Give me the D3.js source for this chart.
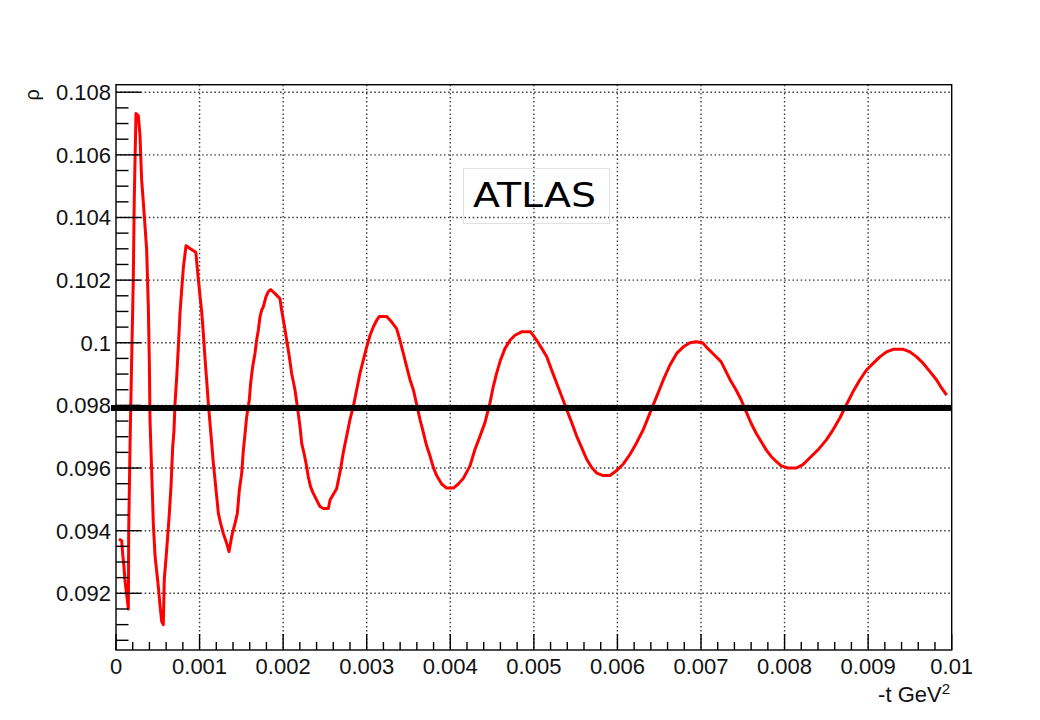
<!DOCTYPE html>
<html><head><meta charset="utf-8">
<script src="https://cdn.jsdelivr.net/npm/d3@7"></script>
<style>body{margin:0;background:#fff}</style>
</head><body><svg id="c" width="1040" height="720"></svg>
<script>
// ---- data ----
const tValues = [
0.000036,0.000068,0.000080,0.000095,0.000108,0.000128,0.000148,0.000152,0.000168,0.000187,
0.000207,0.000219,0.000239,0.000267,0.000287,0.000307,0.000327,0.000347,0.000367,0.000387,
0.000399,0.000407,0.000427,0.000447,0.000467,0.000507,0.000527,0.000547,0.000566,0.000578,
0.000598,0.000618,0.000638,0.000658,0.000678,0.000694,0.000706,0.000726,0.000746,0.000766,
0.000786,0.000806,0.000838,0.000890,0.000955,0.000985,0.001005,0.001025,0.001045,0.001065,
0.001085,0.001105,0.001125,0.001145,0.001165,0.001185,0.001205,0.001225,0.001252,0.001284,
0.001324,0.001352,0.001384,0.001424,0.001452,0.001476,0.001504,0.001524,0.001544,0.001564,
0.001595,0.001611,0.001635,0.001663,0.001683,0.001703,0.001723,0.001743,0.001763,0.001795,
0.001823,0.001851,0.001903,0.001962,0.001982,0.002010,0.002042,0.002074,0.002102,0.002142,
0.002170,0.002202,0.002222,0.002250,0.002274,0.002301,0.002329,0.002361,0.002401,0.002441,
0.002481,0.002541,0.002561,0.002640,0.002680,0.002720,0.002760,0.002800,0.002840,0.002880,
0.002920,0.002960,0.003000,0.003040,0.003080,0.003120,0.003151,0.003239,0.003299,0.003358,
0.003398,0.003438,0.003478,0.003518,0.003558,0.003598,0.003638,0.003678,0.003717,0.003757,
0.003797,0.003837,0.003897,0.003957,0.004037,0.004096,0.004156,0.004236,0.004296,0.004356,
0.004415,0.004475,0.004515,0.004555,0.004595,0.004655,0.004715,0.004774,0.004854,0.004962,
0.005034,0.005094,0.005153,0.005213,0.005273,0.005333,0.005393,0.005453,0.005512,0.005572,
0.005632,0.005692,0.005752,0.005831,0.005911,0.005991,0.006071,0.006151,0.006230,0.006310,
0.006390,0.006470,0.006550,0.006629,0.006709,0.006789,0.006869,0.006940,0.007020,0.007080,
0.007160,0.007240,0.007300,0.007360,0.007420,0.007480,0.007540,0.007600,0.007660,0.007720,
0.007780,0.007840,0.007900,0.007960,0.008040,0.008140,0.008220,0.008300,0.008400,0.008500,
0.008580,0.008660,0.008740,0.008820,0.008900,0.008980,0.009060,0.009140,0.009220,0.009300,
0.009420,0.009500,0.009580,0.009660,0.009740,0.009820,0.009880,0.009940];
const rhoValues = [
0.09373,0.09368,0.09325,0.09285,0.09240,0.09195,0.09150,0.09400,0.09673,0.09941,
0.10204,0.10466,0.10732,0.10725,0.10662,0.10520,0.10449,0.10373,0.10296,0.10113,
0.09936,0.09753,0.09590,0.09420,0.09320,0.09220,0.09160,0.09110,0.09100,0.09246,
0.09310,0.09380,0.09454,0.09540,0.09665,0.09720,0.09805,0.09888,0.09987,0.10095,
0.10170,0.10240,0.10310,0.10300,0.10289,0.10204,0.10150,0.10100,0.10030,0.09950,
0.09880,0.09806,0.09743,0.09679,0.09615,0.09562,0.09509,0.09455,0.09423,0.09391,
0.09360,0.09333,0.09381,0.09423,0.09455,0.09530,0.09583,0.09657,0.09710,0.09764,
0.09817,0.09870,0.09923,0.09966,0.10009,0.10040,0.10083,0.10104,0.10115,0.10147,
0.10163,0.10170,0.10157,0.10141,0.10104,0.10062,0.10009,0.09955,0.09902,0.09849,
0.09796,0.09732,0.09679,0.09647,0.09615,0.09572,0.09540,0.09519,0.09498,0.09477,
0.09471,0.09471,0.09498,0.09534,0.09586,0.09650,0.09702,0.09755,0.09797,0.09850,
0.09903,0.09945,0.09987,0.10024,0.10051,0.10072,0.10084,0.10084,0.10066,0.10045,
0.10008,0.09966,0.09924,0.09882,0.09850,0.09803,0.09755,0.09713,0.09671,0.09639,
0.09602,0.09576,0.09549,0.09536,0.09536,0.09549,0.09567,0.09607,0.09660,0.09702,
0.09745,0.09808,0.09861,0.09903,0.09940,0.09982,0.10008,0.10024,0.10035,0.10035,
0.10008,0.09982,0.09956,0.09913,0.09871,0.09829,0.09787,0.09745,0.09702,0.09665,
0.09628,0.09602,0.09584,0.09576,0.09576,0.09592,0.09613,0.09644,0.09681,0.09723,
0.09776,0.09829,0.09882,0.09929,0.09966,0.09987,0.10000,0.10003,0.10000,0.09982,
0.09961,0.09940,0.09908,0.09876,0.09849,0.09818,0.09780,0.09743,0.09711,0.09685,
0.09658,0.09637,0.09621,0.09607,0.09600,0.09600,0.09611,0.09632,0.09658,0.09690,
0.09722,0.09759,0.09802,0.09844,0.09881,0.09913,0.09934,0.09955,0.09971,0.09979,
0.09979,0.09971,0.09955,0.09934,0.09908,0.09881,0.09855,0.09833];
const refLineT = [-0.00006, 0.01];
const refLineRho = [0.09792, 0.09792];
const xTicks = [0,0.001,0.002,0.003,0.004,0.005,0.006,0.007,0.008,0.009,0.01];
const xTickLabels = ["0","0.001","0.002","0.003","0.004","0.005","0.006","0.007","0.008","0.009","0.01"];
const yTicks = [0.092,0.094,0.096,0.098,0.1,0.102,0.104,0.106,0.108];
const yTickLabels = ["0.092","0.094","0.096","0.098","0.1","0.102","0.104","0.106","0.108"];
const xTitle = "-t GeV";
const xTitleSup = "2";
const yTitle = "ρ";
const annotation = "ATLAS";

// ---- drawing ----
const svg = d3.select("#c");
const L = 116, R = 951.7, T = 84.7, B = 650;
const x = d3.scaleLinear().domain([0, 0.01]).range([L, R]);
const y = d3.scaleLinear().domain([0.09019, 0.10824]).range([B, T]);
const font = "'Liberation Sans', Arial, Helvetica, sans-serif";

// grid
const grid = svg.append("g").attr("stroke", "#3a3a3a").attr("stroke-width", 1.4)
  .attr("stroke-dasharray", "1.5,2.6").attr("fill", "none");
grid.selectAll("line.gx").data(xTicks.slice(1, -1)).join("line")
  .attr("x1", d => x(d)).attr("x2", d => x(d))
  .attr("y1", T).attr("y2", B);
grid.selectAll("line.gy").data(yTicks).join("line")
  .attr("y1", d => y(d)).attr("y2", d => y(d))
  .attr("x1", L).attr("x2", R);

// curve
const pts = tValues.map((t, i) => [t, rhoValues[i]]);
svg.append("path").datum(pts)
  .attr("d", d3.line().x(d => x(d[0])).y(d => y(d[1])))
  .attr("fill", "none").attr("stroke", "#ff0000").attr("stroke-width", 3)
  .attr("stroke-linejoin", "round");

// reference line
const ref = refLineT.map((t, i) => [t, refLineRho[i]]);
svg.append("path").datum(ref)
  .attr("d", d3.line().x(d => x(d[0])).y(d => y(d[1])))
  .attr("stroke", "#000").attr("stroke-width", 6).attr("fill", "none");

// frame
svg.append("rect").attr("x", L).attr("y", T).attr("width", R - L).attr("height", B - T)
  .attr("fill", "none").attr("stroke", "#000").attr("stroke-width", 1.4);

// x ticks
const xMinor = d3.range(0, 0.01 + 1e-9, 0.0002);
svg.append("g").selectAll("line").data(xMinor).join("line")
  .attr("x1", d => x(d)).attr("x2", d => x(d))
  .attr("y1", B).attr("y2", (d, i) => i % 5 === 0 ? B - 16 : B - 8)
  .attr("stroke", "#000").attr("stroke-width", 1.4);
svg.append("g").selectAll("text").data(xTicks).join("text")
  .attr("x", d => x(d)).attr("y", 674).attr("text-anchor", "middle")
  .attr("font-family", font).attr("font-size", 22).attr("fill", "#111")
  .text((d, i) => xTickLabels[i]);

// y ticks
const yMinor = d3.range(0.0905, 0.1082, 0.0005);
svg.append("g").selectAll("line").data(yMinor).join("line")
  .attr("y1", d => y(d)).attr("y2", d => y(d))
  .attr("x1", L).attr("x2", d => Math.abs((d * 1000) % 2) < 0.01 || Math.abs((d * 1000) % 2 - 2) < 0.01 ? L + 25 : L + 12.5)
  .attr("stroke", "#000").attr("stroke-width", 1.4);
svg.append("g").selectAll("text").data(yTicks).join("text")
  .attr("x", 111).attr("y", d => y(d)).attr("dy", "0.36em").attr("text-anchor", "end")
  .attr("font-family", font).attr("font-size", 22).attr("fill", "#111")
  .text((d, i) => yTickLabels[i]);

// titles
const xt = svg.append("text").attr("x", 950).attr("y", 702).attr("text-anchor", "end")
  .attr("font-family", font).attr("font-size", 22).attr("fill", "#111");
xt.append("tspan").text(xTitle);
xt.append("tspan").attr("dy", -8).attr("font-size", 15).text(xTitleSup);

svg.append("text").attr("transform", "translate(39,89) rotate(-90)")
  .attr("text-anchor", "end").attr("font-family", font).attr("font-size", 20).attr("fill", "#111")
  .text(yTitle);

// annotation box
svg.append("rect").attr("x", 463.5).attr("y", 168.5).attr("width", 146).attr("height", 55)
  .attr("fill", "none").attr("stroke", "#e2e2e2").attr("stroke-width", 1);
svg.append("text").attr("x", 473).attr("y", 207)
  .attr("font-family", "'DejaVu Sans', sans-serif").attr("font-size", 34).attr("fill", "#000")
  .attr("textLength", 123).attr("lengthAdjust", "spacingAndGlyphs")
  .text(annotation);
</script></body></html>
